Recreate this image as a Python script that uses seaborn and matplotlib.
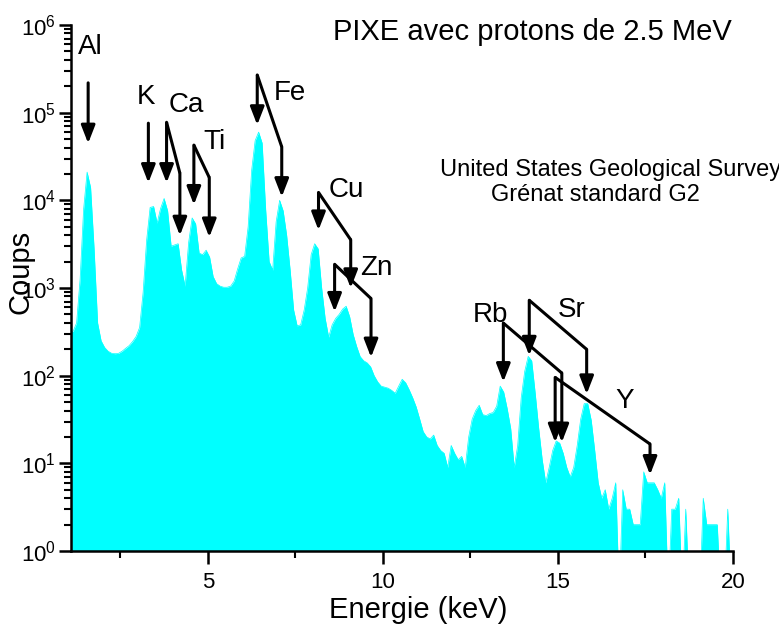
import numpy as np
import pandas as pd
import matplotlib
matplotlib.use("Agg")
import matplotlib.pyplot as plt
from matplotlib.ticker import MultipleLocator, LogLocator, LogFormatterMathtext, NullFormatter
import seaborn as sns

# PIXE spectrum, 0.1 keV channels starting at 1.1 keV
channel_start_keV = 1.1
channel_width_keV = 0.1
counts = [
    320, 400, 1260, 7900, 21000, 14000, 2800, 400, 250, 210,
    190, 180, 178, 180, 190, 205, 220, 245, 280, 355,
    890, 3500, 8300, 8500, 5500, 8100, 10500, 7600, 3000, 3100,
    3200, 1600, 1050, 3300, 6300, 5400, 2500, 2400, 2700, 2250,
    1350, 1120, 1050, 1020, 1020, 1050, 1200, 1650, 2200, 2300,
    5000, 22000, 48000, 60000, 45000, 7900, 2000, 1600, 5700, 10000,
    7600, 4000, 1600, 560, 370, 380, 560, 1000, 2400, 3200,
    2800, 1000, 450, 275, 380, 450, 500, 575, 620, 470,
    295, 215, 165, 148, 140, 126, 100, 85, 76, 74,
    72, 68, 63, 76, 91, 83, 69, 56, 44, 32,
    23, 20, 19, 21, 16, 14, 13, 9, 16, 13,
    11, 12, 9, 20, 32, 40, 46, 36, 35, 37,
    38, 45, 76, 65, 42, 25, 9, 16, 56, 112,
    166, 148, 63, 25, 11, 6, 9, 14, 18, 17,
    13, 9, 7, 9, 16, 32, 48, 48, 31, 14,
    6, 4, 5, 3, 4, 6, 0, 5, 3, 3,
    2, 2, 2, 8, 6, 6, 6, 5, 4, 6,
    0, 3, 3, 4, 0, 3, 0, 0, 0, 0,
    4, 2, 2, 2, 2, 0, 0, 3, 0, 0,
]

# Element lines: label, K-alpha energy, K-beta energy (keV)
elements = ["Al", "K", "Ca", "Ti", "Fe", "Cu", "Zn", "Rb", "Sr", "Y"]
kalpha_keV = [1.58, 3.30, 3.82, 4.60, 6.41, 8.16, 8.62, 13.44, 14.18, 14.92]
kbeta_keV = [None, None, 4.20, 5.04, 7.11, 9.08, 9.66, 15.11, 15.82, 17.63]

# Marker layout (log10 of counts): arrow top, alpha tip, beta corner, beta tip, label
arrow_top = [5.34, 4.88, 4.89, 4.63, 5.43, 4.09, 3.27, 2.60, 2.86, 1.98]
alpha_tip = [4.65, 4.20, 4.20, 3.95, 4.86, 3.66, 2.73, 1.93, 2.23, 1.24]
beta_corner = [None, None, 4.31, 4.26, 4.61, 3.55, 2.88, 2.03, 2.30, 1.22]
beta_tip = [None, None, 3.60, 3.58, 4.04, 3.00, 2.21, 1.24, 1.79, 0.87]
label_pos = [(1.63, 5.75), (3.23, 5.18), (4.38, 5.09), (5.20, 4.66), (7.35, 5.23),
             (8.95, 4.12), (9.80, 3.23), (13.06, 2.69), (15.40, 2.75), (16.89, 1.71)]

sns.set_style("ticks")
plt.rcParams["font.family"] = ["Liberation Sans", "DejaVu Sans"]
plt.rcParams["mathtext.fontset"] = "custom"
plt.rcParams["mathtext.rm"] = "Liberation Sans"
plt.rcParams["mathtext.it"] = "Liberation Sans:italic"
plt.rcParams["mathtext.bf"] = "Liberation Sans:bold"
for key in ("text.color", "axes.labelcolor", "xtick.color", "ytick.color", "axes.edgecolor"):
    plt.rcParams[key] = "black"

# channel centres; empty channels drop to the bottom of the log axis
centres = channel_start_keV + channel_width_keV * (np.arange(len(counts)) + 0.5)
df = pd.DataFrame({"energy": centres, "counts": counts})
df["shown"] = df["counts"].clip(lower=0.3)
# extend the curve to the axis edges
df = pd.concat([pd.DataFrame({"energy": [1.09], "counts": [counts[0]], "shown": [counts[0]]}),
                df,
                pd.DataFrame({"energy": [20.0], "counts": [0], "shown": [0.3]})],
               ignore_index=True)

fig = plt.figure(figsize=(7.79, 6.35), dpi=100)
ax = fig.add_axes([71 / 779, 1 - 551 / 635, 662 / 779, 526 / 635])

sns.lineplot(data=df, x="energy", y="shown", color="#00FFFF", linewidth=0.5, ax=ax)
ax.fill_between(df["energy"], 0.3, df["shown"], color="#00FFFF", linewidth=0)
ax.set_yscale("log")
ax.set_ylim(1, 1e6)
ax.set_xlim(1.09, 20)

ax.xaxis.set_major_locator(MultipleLocator(5))
ax.xaxis.set_minor_locator(MultipleLocator(2.5))
ax.yaxis.set_major_locator(LogLocator(base=10, numticks=10))
ax.yaxis.set_major_formatter(LogFormatterMathtext())
ax.yaxis.set_minor_locator(LogLocator(base=10, subs=np.arange(2, 10), numticks=20))
ax.yaxis.set_minor_formatter(NullFormatter())

sns.despine(ax=ax)
for s in ("left", "bottom"):
    ax.spines[s].set_linewidth(1.8)
    ax.spines[s].set_zorder(5)
ax.tick_params(which="major", direction="out", length=9, width=1.8, labelsize=16, pad=2)
ax.tick_params(which="minor", direction="out", length=5, width=1.5)
ax.tick_params(axis="x", which="major", pad=6)

ax.set_xlabel("Energie (keV)", fontsize=21)
ax.set_ylabel("Coups", fontsize=21)
ax.xaxis.set_label_coords(0.524, -0.085)
ax.yaxis.set_label_coords(-0.055, 0.53)

arrow_kw = dict(arrowstyle="-|>,head_length=0.9,head_width=0.35", color="black",
                lw=2.2, shrinkA=0, shrinkB=0, mutation_scale=12)
for i, name in enumerate(elements):
    xa = kalpha_keV[i]
    top = 10 ** arrow_top[i]
    ax.annotate("", xy=(xa, 10 ** alpha_tip[i]), xytext=(xa, top), arrowprops=arrow_kw)
    if kbeta_keV[i] is not None:
        xb = kbeta_keV[i]
        corner = 10 ** beta_corner[i]
        ax.plot([xa, xb], [top, corner], color="black", lw=2.2, solid_capstyle="butt")
        ax.annotate("", xy=(xb, 10 ** beta_tip[i]), xytext=(xb, corner), arrowprops=arrow_kw)
    lx, ly = label_pos[i]
    ax.text(lx, 10 ** ly, name, fontsize=20, ha="center", va="center")

fig.text(532.5 / 779, 1 - 32 / 635, "PIXE avec protons de 2.5 MeV", fontsize=21,
         ha="center", va="center")
fig.text(440 / 779, 1 - 170 / 635, "United States Geological Survey", fontsize=17,
         ha="left", va="center")
fig.text(595 / 779, 1 - 195 / 635, "Grénat standard G2", fontsize=17,
         ha="center", va="center")

fig.savefig("out.png", dpi=100)
